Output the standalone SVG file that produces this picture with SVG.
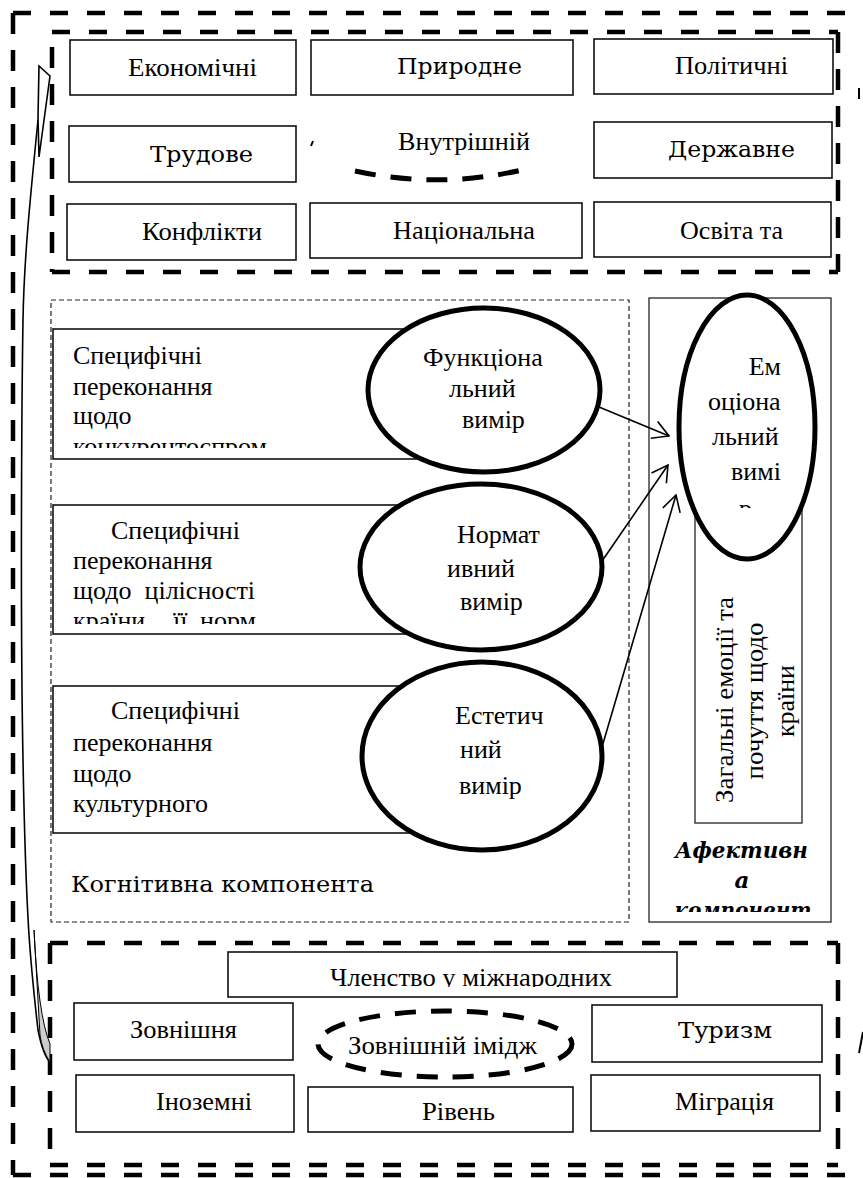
<svg xmlns="http://www.w3.org/2000/svg" width="863" height="1178" viewBox="0 0 863 1178" font-family="'Liberation Serif', 'Times New Roman', serif">
<defs>
<style>
text{font-family:'Liberation Serif','Times New Roman',serif}
.t{font-family:'Liberation Serif','Times New Roman',serif;font-size:26px;fill:#000}
.c{font-family:'DejaVu Serif','Liberation Serif',serif;font-size:23px;fill:#000}
.bi{font-family:'DejaVu Serif','Liberation Serif',serif;font-size:23px;font-weight:bold;font-style:italic;fill:#000}
.box{fill:#fff;stroke:#111;stroke-width:1.6}
.thin{fill:none;stroke:#222;stroke-width:1.3}
.cdash{fill:none;stroke:#222;stroke-width:1.2;stroke-dasharray:5 3}
.hd{fill:none;stroke:#000;stroke-width:4.5;stroke-dasharray:18 19}
.vd{fill:none;stroke:#000;stroke-width:4.5;stroke-dasharray:21 16}
.ed{fill:none;stroke:#000;stroke-width:5;stroke-dasharray:21 15}
.ell{fill:#fff;stroke:#000;stroke-width:5}
.arr{fill:none;stroke:#000;stroke-width:1.6;marker-end:url(#ah)}
.pre{white-space:pre}
</style>
<marker id="ah" viewBox="0 0 18 20" refX="17" refY="10" markerWidth="18" markerHeight="20" markerUnits="userSpaceOnUse" orient="auto"><path d="M1,1 L17,10 L1,19" fill="none" stroke="#000" stroke-width="1.6"/></marker>
<clipPath id="cb1"><rect x="53" y="329" width="380" height="119"/></clipPath>
<clipPath id="cb2"><rect x="53" y="505" width="380" height="119"/></clipPath>
<clipPath id="cem"><rect x="680" y="290" width="140" height="218"/></clipPath>
<clipPath id="caf"><rect x="650" y="830" width="180" height="82"/></clipPath>
<clipPath id="cch"><rect x="228" y="952" width="449" height="35"/></clipPath>
</defs>
<rect x="0" y="0" width="863" height="1178" fill="#fff"/>

<g id="frames">
<line class="hd" x1="13" y1="13" x2="863" y2="13"/>
<line class="vd" x1="13" y1="13" x2="13" y2="1175"/>
<line class="hd" x1="13" y1="1175" x2="863" y2="1175"/>
<line class="hd" x1="52" y1="32" x2="838" y2="32"/>
<line class="vd" x1="52" y1="47" x2="52" y2="272"/>
<line class="vd" x1="838" y1="32" x2="838" y2="272"/>
<line class="hd" x1="52" y1="272" x2="838" y2="272"/>
<line class="hd" x1="50" y1="943" x2="838" y2="943"/>
<line class="vd" x1="50" y1="943" x2="50" y2="1165"/>
<line class="vd" x1="838" y1="943" x2="838" y2="1165"/>
<line class="hd" x1="50" y1="1165" x2="838" y2="1165"/>
<path d="M859,88 L859,99" stroke="#000" stroke-width="2" fill="none"/>
<path d="M863,1032 L859,1053" stroke="#000" stroke-width="2" fill="none"/>
</g>

<g id="internal">
<path d="M355,171 Q443,190 530,168" class="ed"/>
<path d="M311,146 L313,141" stroke="#000" stroke-width="2" fill="none"/>
<text class="t" x="398" y="150" textLength="132" lengthAdjust="spacingAndGlyphs">Внутрішній</text>
</g>

<g id="n-econ"><rect class="box" x="70" y="40" width="226" height="55"/><text class="t" x="128" y="76" textLength="129" lengthAdjust="spacingAndGlyphs">Економічні</text></g>
<g id="n-pryr"><rect class="box" x="311" y="40" width="262" height="55"/><text class="c" x="397" y="74" textLength="125" lengthAdjust="spacingAndGlyphs">Природне</text></g>
<g id="n-polit"><rect class="box" x="594" y="39" width="239" height="55"/><text class="t" x="675" y="74" textLength="113" lengthAdjust="spacingAndGlyphs">Політичні</text></g>
<g id="n-trud"><rect class="box" x="69" y="126" width="227" height="56"/><text class="c" x="150" y="162" textLength="103" lengthAdjust="spacingAndGlyphs">Трудове</text></g>
<g id="n-derzh"><rect class="box" x="594" y="122" width="238" height="56"/><text class="c" x="668" y="157" textLength="127" lengthAdjust="spacingAndGlyphs">Державне</text></g>
<g id="n-konf"><rect class="box" x="67" y="204" width="229" height="56"/><text class="t" x="142" y="240" textLength="120" lengthAdjust="spacingAndGlyphs">Конфлікти</text></g>
<g id="n-nats"><rect class="box" x="310" y="203" width="272" height="55"/><text class="t" x="393" y="239" textLength="142" lengthAdjust="spacingAndGlyphs">Національна</text></g>
<g id="n-osv"><rect class="box" x="594" y="202" width="237" height="55"/><text class="t" x="680" y="239" textLength="103" lengthAdjust="spacingAndGlyphs">Освіта та</text></g>

<g id="cognitive">
<rect class="cdash" x="51" y="300" width="578" height="622"/>
<text class="c" x="71" y="892" font-size="22" textLength="303" lengthAdjust="spacingAndGlyphs">Когнітивна компонента</text>
</g>

<g id="n-b1">
<rect class="box" x="53" y="329" width="377" height="130"/>
<g clip-path="url(#cb1)">
<text class="t" x="73" y="364">Специфічні</text>
<text class="t" x="73" y="395">переконання</text>
<text class="t" x="73" y="424">щодо</text>
<text class="t" x="73" y="455">конкурентоспром</text>
</g>
</g>
<g id="n-b2">
<rect class="box" x="53" y="505" width="377" height="129"/>
<g clip-path="url(#cb2)">
<text class="t" x="111" y="539">Специфічні</text>
<text class="t" x="73" y="569">переконання</text>
<text class="t pre" x="73" y="599">щодо  цілісності</text>
<text class="t" y="629"><tspan x="73">країни</tspan><tspan x="173">її</tspan><tspan x="200">норм</tspan></text>
</g>
</g>
<g id="n-b3">
<rect class="box" x="53" y="686" width="377" height="147"/>
<text class="t" x="111" y="719">Специфічні</text>
<text class="t" x="73" y="751">переконання</text>
<text class="t" x="73" y="782">щодо</text>
<text class="t" x="73" y="812">культурного</text>
</g>

<g id="n-func">
<ellipse class="ell" cx="484" cy="390" rx="116" ry="82"/>
<text class="t" x="423" y="366">Функціона</text>
<text class="t" x="449" y="397">льний</text>
<text class="t" x="462" y="428">вимір</text>
</g>
<g id="n-norm">
<ellipse class="ell" cx="481" cy="567" rx="121" ry="83"/>
<text class="t" x="457" y="543">Нормат</text>
<text class="t" x="447" y="577">ивний</text>
<text class="t" x="460" y="610">вимір</text>
</g>
<g id="n-est">
<ellipse class="ell" cx="482" cy="756" rx="120" ry="94"/>
<text class="t" x="455" y="724">Естетич</text>
<text class="t" x="460" y="758">ний</text>
<text class="t" x="459" y="794">вимір</text>
</g>

<g id="affective">
<rect class="thin" x="649" y="298" width="182" height="624"/>
<g clip-path="url(#caf)">
<text class="bi" x="675" y="858" textLength="133" lengthAdjust="spacingAndGlyphs">Афективн</text>
<text class="bi" x="742" y="888" text-anchor="middle">а</text>
<text class="bi" x="743" y="918" text-anchor="middle" textLength="137" lengthAdjust="spacingAndGlyphs">компонент</text>
</g>
</g>
<g id="n-general">
<rect class="thin" x="695" y="470" width="107" height="353"/>
<text class="t" transform="translate(733,700) rotate(-90)" text-anchor="middle" textLength="206" lengthAdjust="spacingAndGlyphs">Загальні емоції та</text>
<text class="t" transform="translate(763,701) rotate(-90)" text-anchor="middle" textLength="157" lengthAdjust="spacingAndGlyphs">почуття щодо</text>
<text class="t" transform="translate(794,701) rotate(-90)" text-anchor="middle" textLength="72" lengthAdjust="spacingAndGlyphs">країни</text>
</g>
<g id="n-emo">
<ellipse class="ell" cx="747" cy="427" rx="68" ry="132"/>
<g clip-path="url(#cem)">
<text class="t" x="781" y="375" text-anchor="end">Ем</text>
<text class="t" x="708" y="410">оціона</text>
<text class="t" x="712" y="445">льний</text>
<text class="t" x="731" y="480">вимі</text>
<text class="t" x="739" y="517">р</text>
</g>
</g>

<g id="external">
<ellipse class="ed" cx="445" cy="1044" rx="127" ry="33"/>
<text class="t" x="348" y="1054" textLength="189" lengthAdjust="spacingAndGlyphs">Зовнішній імідж</text>
</g>
<g id="n-chl"><rect class="box" x="228" y="952" width="449" height="45"/><text class="t" x="330" y="986" textLength="282" lengthAdjust="spacingAndGlyphs" clip-path="url(#cch)">Членство у міжнародних</text></g>
<g id="n-zovn"><rect class="box" x="74" y="1003" width="219" height="57"/><text class="t" x="130" y="1038" textLength="107" lengthAdjust="spacingAndGlyphs">Зовнішня</text></g>
<g id="n-tur"><rect class="box" x="592" y="1005" width="230" height="57"/><text class="c" x="678" y="1038" textLength="94" lengthAdjust="spacingAndGlyphs">Туризм</text></g>
<g id="n-inoz"><rect class="box" x="76" y="1075" width="218" height="57"/><text class="t" x="156" y="1110" textLength="96" lengthAdjust="spacingAndGlyphs">Іноземні</text></g>
<g id="n-riv"><rect class="box" x="308" y="1087" width="265" height="45"/><text class="t" x="422" y="1120" textLength="73" lengthAdjust="spacingAndGlyphs">Рівень</text></g>
<g id="n-migr"><rect class="box" x="591" y="1075" width="229" height="56"/><text class="t" x="675" y="1110" textLength="99" lengthAdjust="spacingAndGlyphs">Міграція</text></g>

<g id="connectors">
<line class="arr" x1="599" y1="407" x2="669" y2="436"/>
<line class="arr" x1="600" y1="564" x2="668" y2="465"/>
<line class="arr" x1="602" y1="747" x2="676" y2="495"/>
<path d="M38,120 C30,200 24,260 23,320 S20,600 23,760 S30,960 38,1030 Q43,1055 50,1062" fill="none" stroke="#000" stroke-width="1.6"/>
<path d="M34,930 Q38,1015 50,1044 L50,1062 Q42,1050 40,1035 Z" fill="#ccc" stroke="#000" stroke-width="1"/>
<path d="M38,118 L39,66 L50,76 L39,157 Z" fill="#fff" stroke="#000" stroke-width="1.6"/>
</g>
</svg>
